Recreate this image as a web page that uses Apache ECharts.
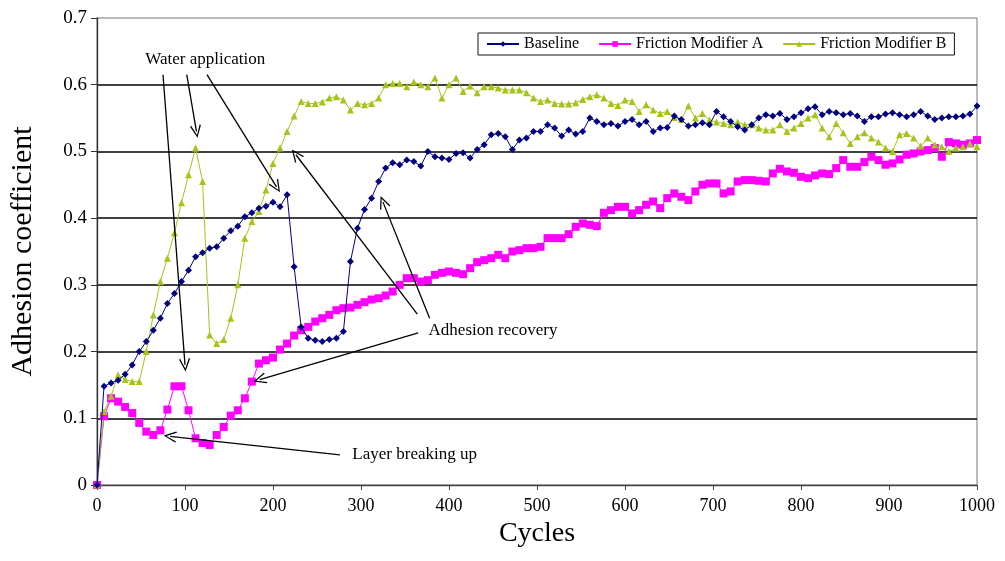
<!DOCTYPE html>
<html>
<head>
<meta charset="utf-8">
<script src="https://cdn.jsdelivr.net/npm/echarts@6/dist/echarts.min.js"></script>
<style>html,body{margin:0;padding:0;background:#fff;}#c{width:1005px;height:561px;}</style>
</head>
<body>
<div id="c"></div>
<script>
const seriesNames = ['Baseline', 'Friction Modifier A', 'Friction Modifier B'];
const cycles = [
  0,8,16,24,32,40,48,56,64,72,
  80,88,96,104,112,120,128,136,144,152,
  160,168,176,184,192,200,208,216,224,232,
  240,248,256,264,272,280,288,296,304,312,
  320,328,336,344,352,360,368,376,384,392,
  400,408,416,424,432,440,448,456,464,472,
  480,488,496,504,512,520,528,536,544,552,
  560,568,576,584,592,600,608,616,624,632,
  640,648,656,664,672,680,688,696,704,712,
  720,728,736,744,752,760,768,776,784,792,
  800,808,816,824,832,840,848,856,864,872,
  880,888,896,904,912,920,928,936,944,952,
  960,968,976,984,992,1000
];
const baseline = [
  0,0.148,0.153,0.157,0.166,0.18,0.2,0.215,0.232,0.25,
  0.272,0.287,0.305,0.322,0.342,0.348,0.355,0.357,0.37,0.381,
  0.388,0.402,0.408,0.415,0.418,0.424,0.417,0.435,0.327,0.237,
  0.22,0.217,0.215,0.218,0.22,0.23,0.335,0.385,0.413,0.43,
  0.455,0.475,0.483,0.48,0.487,0.485,0.478,0.5,0.492,0.49,
  0.488,0.497,0.498,0.49,0.503,0.51,0.525,0.527,0.522,0.503,
  0.517,0.52,0.53,0.53,0.54,0.535,0.523,0.532,0.526,0.53,
  0.55,0.545,0.54,0.542,0.538,0.545,0.548,0.54,0.545,0.53,
  0.535,0.536,0.553,0.548,0.538,0.54,0.543,0.54,0.56,0.552,
  0.545,0.537,0.532,0.54,0.55,0.555,0.553,0.557,0.548,0.552,
  0.558,0.564,0.567,0.555,0.56,0.558,0.555,0.557,0.553,0.545,
  0.552,0.552,0.556,0.558,0.555,0.552,0.555,0.56,0.553,0.548,
  0.55,0.552,0.552,0.553,0.556,0.568
];
const modifierA = [
  0,0.103,0.13,0.125,0.117,0.108,0.093,0.08,0.075,0.082,
  0.113,0.148,0.148,0.112,0.07,0.063,0.06,0.075,0.087,0.104,
  0.112,0.13,0.155,0.182,0.187,0.191,0.203,0.212,0.224,0.232,
  0.237,0.245,0.25,0.255,0.262,0.265,0.266,0.27,0.274,0.278,
  0.28,0.284,0.29,0.3,0.31,0.31,0.305,0.307,0.315,0.318,
  0.32,0.318,0.316,0.325,0.334,0.337,0.34,0.345,0.34,0.35,
  0.352,0.355,0.355,0.357,0.37,0.37,0.37,0.376,0.387,0.392,
  0.39,0.388,0.408,0.412,0.417,0.417,0.407,0.412,0.42,0.425,
  0.415,0.43,0.437,0.432,0.427,0.44,0.45,0.452,0.452,0.437,
  0.44,0.455,0.457,0.457,0.456,0.455,0.467,0.474,0.47,0.468,
  0.462,0.46,0.464,0.467,0.466,0.475,0.487,0.477,0.477,0.484,
  0.492,0.487,0.48,0.482,0.488,0.495,0.497,0.5,0.502,0.505,
  0.492,0.514,0.512,0.51,0.512,0.517
];
const modifierB = [
  0,0.11,0.133,0.165,0.158,0.155,0.155,0.2,0.255,0.305,
  0.34,0.378,0.423,0.465,0.505,0.455,0.225,0.212,0.218,0.25,
  0.3,0.37,0.395,0.41,0.442,0.482,0.505,0.53,0.553,0.575,
  0.572,0.572,0.574,0.58,0.582,0.577,0.562,0.572,0.57,0.572,
  0.58,0.6,0.602,0.602,0.597,0.604,0.6,0.597,0.61,0.58,
  0.6,0.61,0.59,0.598,0.588,0.597,0.597,0.595,0.592,0.592,
  0.592,0.588,0.58,0.575,0.577,0.572,0.571,0.571,0.573,0.578,
  0.582,0.585,0.58,0.572,0.569,0.577,0.575,0.56,0.57,0.562,
  0.557,0.56,0.551,0.548,0.568,0.55,0.557,0.547,0.544,0.542,
  0.54,0.544,0.54,0.54,0.535,0.532,0.532,0.54,0.53,0.535,
  0.542,0.55,0.555,0.535,0.522,0.542,0.528,0.512,0.522,0.528,
  0.52,0.514,0.505,0.5,0.525,0.527,0.52,0.508,0.52,0.51,
  0.507,0.5,0.505,0.507,0.512,0.507
];
const xTickLabels = ['0','100','200','300','400','500','600','700','800','900','1000'];
const yTickLabels = ['0','0.1','0.2','0.3','0.4','0.5','0.6','0.7'];

// annotation texts and arrows (data coordinates: [cycles, adhesion])
const annotationTexts = [
  { name: 'Water application', coord: [123, 0.637] },
  { name: 'Adhesion recovery', coord: [450, 0.232] },
  { name: 'Layer breaking up', coord: [361, 0.045] }
];
const annotationArrows = [
  [[75, 0.615], [100, 0.18]],
  [[102, 0.615], [113, 0.53]],
  [[125, 0.615], [204, 0.447]],
  [[364, 0.256], [226, 0.495]],
  [[378, 0.25], [325, 0.424]],
  [[365, 0.228], [185, 0.158]],
  [[276, 0.045], [83, 0.073]]
];

const SERIF = 'Liberation Serif, Times New Roman, serif';
const colors = ['#000080', '#ff00ff', '#a4c41c'];
const symbols = ['diamond', 'rect', 'triangle'];
const symbolSizes = [7, 8, 7];
const values = [baseline, modifierA, modifierB];

const chevron = 'path://M5,0L10,12L9,12.8L5,2.8L1,12.8L0,12Z';

const series = seriesNames.map((name, k) => ({
  name: name,
  type: 'line',
  data: cycles.map((c, i) => [c, values[k][i]]),
  symbol: symbols[k],
  symbolSize: symbolSizes[k],
  showAllSymbol: true,
  lineStyle: { color: colors[k], width: 1 },
  itemStyle: { color: colors[k] },
  z: k === 0 ? 4 : 3,
  animation: false
}));

series.push({
  name: 'annotations',
  type: 'line',
  data: [],
  silent: true,
  animation: false,
  markLine: {
    silent: true,
    animation: false,
    symbol: ['none', chevron],
    symbolSize: [11, 13],
    label: { show: false },
    lineStyle: { color: '#000', width: 1.3, type: 'solid' },
    emphasis: { disabled: true },
    data: annotationArrows.map(a => [{ coord: a[0] }, { coord: a[1] }])
  },
  markPoint: {
    silent: true,
    animation: false,
    symbol: 'rect',
    symbolSize: 1,
    itemStyle: { color: 'rgba(0,0,0,0)' },
    label: {
      show: true, position: 'inside', formatter: '{b}',
      color: '#000', fontFamily: SERIF, fontSize: 17
    },
    data: annotationTexts.map(t => ({ name: t.name, coord: t.coord }))
  }
});

const chart = echarts.init(document.getElementById('c'), null, { renderer: 'canvas' });
chart.setOption({
  backgroundColor: '#fff',
  animation: false,
  grid: { left: 97, right: 28, top: 18, bottom: 76, outerBoundsMode: 'none', containLabel: false,
    show: true, borderColor: '#777', borderWidth: 1, backgroundColor: 'transparent' },
  legend: {
    data: seriesNames,
    left: 478, top: 33,
    padding: [3, 8],
    itemGap: 19,
    itemWidth: 32,
    itemHeight: 7,
    borderColor: '#111', borderWidth: 1,
    backgroundColor: '#fff',
    textStyle: { fontFamily: SERIF, fontSize: 16, color: '#000' }
  },
  xAxis: {
    type: 'value', min: 0, max: 1000, interval: 100,
    name: 'Cycles', nameLocation: 'middle', nameGap: 35,
    nameTextStyle: { fontFamily: SERIF, fontSize: 28, color: '#000' },
    axisLine: { show: true, onZero: false, lineStyle: { color: '#444', width: 1.3 } },
    axisTick: { show: true, inside: false, length: 5, lineStyle: { color: '#444' } },
    axisLabel: { fontFamily: SERIF, fontSize: 18, color: '#000', margin: 12,
      formatter: v => xTickLabels[Math.round(v / 100)] },
    splitLine: { show: false }
  },
  yAxis: {
    type: 'value', min: 0, max: 0.7, interval: 0.1,
    name: 'Adhesion coefficient', nameLocation: 'middle', nameGap: 59, nameRotate: 90,
    nameTextStyle: { fontFamily: SERIF, fontSize: 30, color: '#000' },
    axisLine: { show: true, lineStyle: { color: '#333', width: 1.3 } },
    axisTick: { show: true, inside: false, length: 6, lineStyle: { color: '#333' } },
    axisLabel: { fontFamily: SERIF, fontSize: 19, color: '#000', margin: 10,
      formatter: v => yTickLabels[Math.round(v * 10)] },
    splitLine: { show: true, showMinLine: false, showMaxLine: false, lineStyle: { color: '#000', width: 1.5 } }
  },
  series: series
});
</script>
</body>
</html>
